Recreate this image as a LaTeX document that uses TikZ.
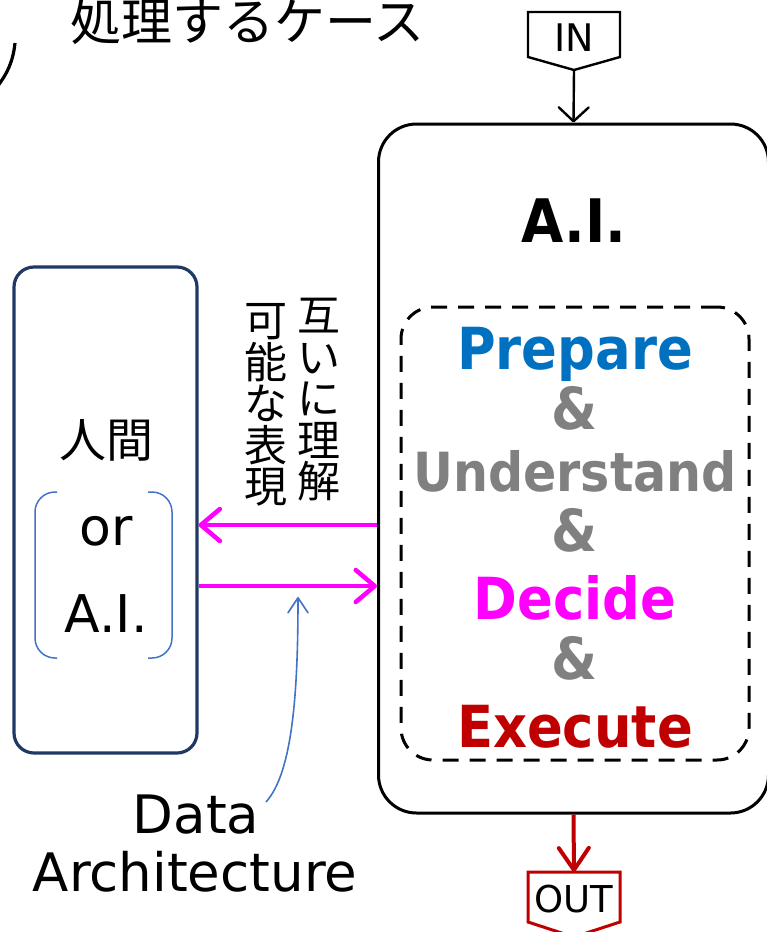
\documentclass[tikz,border=0pt]{standalone}
\usepackage{fontspec}
\setmainfont{DejaVu Sans}
\newfontfamily\cjk{Noto Sans CJK JP}
\newfontfamily\lat[FakeStretch=0.91]{DejaVu Sans}
\usetikzlibrary{arrows.meta}
\definecolor{navy}{HTML}{1F3864}
\definecolor{prepblue}{HTML}{0070C0}
\definecolor{undgrey}{HTML}{808080}
\definecolor{decmag}{HTML}{FF00FF}
\definecolor{exered}{HTML}{C00000}
\definecolor{linkblue}{HTML}{4472C4}
\tikzset{
  txt/.style={inner sep=0pt, anchor=base},
  bigword/.style={txt, font=\lat\bfseries\fontsize{58}{58}\selectfont},
  amp/.style={bigword, text=undgrey},
  flowarrow/.style={draw=decmag, line width=4.5pt,
    -{Straight Barb[length=19pt,width=32pt,round]}},
  inarrow/.style={draw=black, line width=2.4pt,
    -{Straight Barb[length=14pt,width=30pt,round]}},
  outarrow/.style={draw=exered, line width=4pt,
    -{Straight Barb[length=22pt,width=30pt,round]}},
  notearrow/.style={draw=linkblue, line width=1.6pt,
    -{Straight Barb[length=15pt,width=20pt,round]}},
  bracket/.style={draw=linkblue, line width=1.5pt, rounded corners=20pt}
}
\begin{document}
\begin{tikzpicture}[x=1pt,y=-1pt]
\useasboundingbox (0,0) rectangle (767,932);

% heading (runs past the top edge)
\node[txt, font=\cjk\fontsize{51}{51}\selectfont] (title) at (247.5,40) {処理するケース};
\draw[line width=3.2pt] (15,43) .. controls (13,62) and (7,74) .. (-3,87);

% input tag
\draw[line width=2.4pt, line join=miter] (528,12) -- (620,12) -- (620,57) -- (574,70) -- (528,57) -- cycle;
\node[txt, font=\fontsize{38}{38}\selectfont] (inlabel) at (574,51) {IN};
\coordinate (intip) at (574,70);

% main A.I. block
\node[draw, line width=3pt, rounded corners=38pt, minimum width=390pt, minimum height=689pt, inner sep=0pt] (ai) at (573.5,468.5) {};
\node[txt, font=\lat\bfseries\fontsize{60}{60}\selectfont] (aititle) at (574,242) {A.I.};
\node[draw, dash pattern=on 16pt off 11pt, line width=3pt, rounded corners=32pt, minimum width=348pt, minimum height=453pt, inner sep=0pt] (steps) at (575,533.5) {};
\node[bigword, text=prepblue] (prep) at (575,369) {Prepare};
\node[amp] (amp1) at (575,429) {\&};
\node[txt, text=undgrey, font=\lat\bfseries\fontsize{54}{54}\selectfont] (und) at (575,491) {Understand};
\node[amp] (amp2) at (575,551) {\&};
\node[bigword, text=decmag] (dec) at (575,619) {Decide};
\node[amp] (amp3) at (575,679) {\&};
\node[bigword, text=exered] (exe) at (575,747.5) {Execute};

\draw[inarrow] (intip) -- (ai.north);

% output tag
\coordinate (outtop) at (574,872);
\draw[outarrow] (ai.south) -- (outtop);
\draw[draw=exered, line width=3pt, line join=miter] (528,872) -- (620,872) -- (620,922) -- (574,937) -- (528,922) -- cycle;
\node[txt, font=\fontsize{37}{37}\selectfont] (outlabel) at (574,912) {OUT};

% counterpart block
\node[draw=navy, line width=3.2pt, rounded corners=20pt, minimum width=183pt, minimum height=486pt, inner sep=0pt] (peer) at (105.5,510) {};
\node[inner sep=0pt, font=\cjk\fontsize{47}{47}\selectfont] (human) at (106,440) {人間};
\node[txt, font=\fontsize{52}{52}\selectfont] (orword) at (106,545) {or};
\node[txt, font=\fontsize{52}{52}\selectfont] (peerai) at (106,632) {A.I.};
\draw[bracket] (57,492) -- (35,492) -- (35,658) -- (57,658);
\draw[bracket] (148,492) -- (172,492) -- (172,658) -- (148,658);

% exchange between the blocks
\draw[flowarrow] (ai.west |- 0,525) -- (peer.east |- 0,525);
\draw[flowarrow] (peer.east |- 0,586) -- (ai.west |- 0,586);

% vertical caption
\node[inner sep=0pt, align=center, font=\cjk\fontsize{43}{41.5}\selectfont] (capright) at (319,400) {互\\い\\に\\理\\解};
\node[inner sep=0pt, align=center, font=\cjk\fontsize{43}{41.5}\selectfont] (capleft) at (266,405) {可\\能\\な\\表\\現};

% data architecture note
\node[txt, font=\fontsize{53}{53}\selectfont] (data) at (196,833) {Data};
\node[txt, font=\fontsize{53}{53}\selectfont] (arch) at (195,891) {Architecture};
\coordinate (notestart) at (266,802);
\coordinate (notetip) at (298,597);
\draw[notearrow] (notestart) .. controls (293,772) and (298,690) .. (notetip);
\end{tikzpicture}
\end{document}
